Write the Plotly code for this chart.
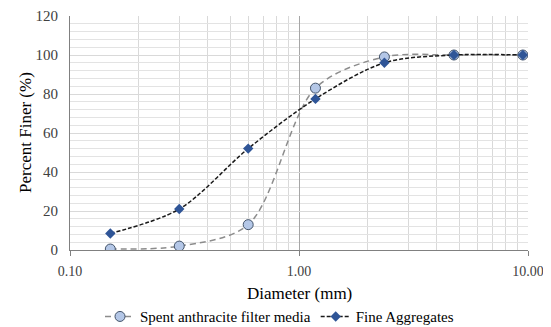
import plotly.graph_objects as go

diameter_mm = [0.15, 0.30, 0.60, 1.18, 2.36, 4.75, 9.50]
anthracite = [0.5, 2, 13, 83, 99, 100, 100]
fine_agg = [8.5, 21, 52, 77.5, 96, 100, 100]
x_tick_vals = [0.1, 1, 10]
x_tick_text = ["0.10", "1.00", "10.00"]
x_minor_vals = [0.2, 0.3, 0.4, 0.5, 0.6, 0.7, 0.8, 0.9, 2, 3, 4, 5, 6, 7, 8, 9]

font_family = "Liberation Serif"

fig = go.Figure()
fig.add_trace(go.Scatter(
    x=diameter_mm, y=anthracite, name="Spent anthracite filter media",
    mode="lines+markers",
    line=dict(color="#8C8C8C", width=1.5, dash="6px,4px", shape="spline", smoothing=0.9),
    marker=dict(symbol="circle", size=10, color="#B4C7E7", line=dict(color="#44546A", width=1)),
))
fig.add_trace(go.Scatter(
    x=diameter_mm, y=fine_agg, name="Fine Aggregates",
    mode="lines+markers",
    line=dict(color="#1A1A1A", width=1.5, dash="4px,2px", shape="spline", smoothing=0.9),
    marker=dict(symbol="diamond", size=8, color="#2F5597", line=dict(width=0)),
))

fig.update_layout(
    width=543, height=319,
    margin=dict(l=62, r=23, t=8, b=77, autoexpand=False),
    paper_bgcolor="white", plot_bgcolor="white",
    font=dict(family=font_family, size=14, color="#404040"),
    showlegend=True,
    legend=dict(orientation="h", x=0.5, xanchor="center", xref="container",
                y=-0.285, yanchor="middle", yref="paper",
                font=dict(family=font_family, size=15, color="#000000"),
                itemwidth=30, tracegroupgap=0),
    annotations=[
        dict(text="Diameter (mm)", x=0.5, xref="paper", y=0, yref="paper",
             xanchor="center", yanchor="top", yshift=-32, showarrow=False,
             font=dict(family=font_family, size=17, color="#000000")),
        dict(text="Percent Finer (%)", x=0, xref="paper", y=0.5, yref="paper",
             xanchor="center", yanchor="middle", xshift=-45, textangle=-90, showarrow=False,
             font=dict(family=font_family, size=17, color="#000000")),
    ],
)
fig.update_xaxes(
    type="log", range=[-1, 1], automargin=False,
    tickvals=x_tick_vals, ticktext=x_tick_text,
    showgrid=True, gridcolor="#A6A6A6", gridwidth=1,
    showline=True, linecolor="#808080", linewidth=1,
    ticks="outside", ticklen=5, tickcolor="#808080", ticklabelstandoff=3,
    minor=dict(tickvals=x_minor_vals, showgrid=True, gridcolor="#D9D9D9", gridwidth=1, ticks=""),
    tickfont=dict(family=font_family, size=14, color="#404040"),
    zeroline=False,
)
fig.update_yaxes(
    range=[0, 120], dtick=20, automargin=False,
    showgrid=True, gridcolor="#D9D9D9", gridwidth=1,
    showline=True, linecolor="#808080", linewidth=1,
    ticklabelstandoff=8,
    minor=dict(dtick=4, showgrid=True, gridcolor="#E3E3E3", gridwidth=1),
    tickfont=dict(family=font_family, size=15, color="#404040"),
    zeroline=False,
)

fig.write_html("out.html")
